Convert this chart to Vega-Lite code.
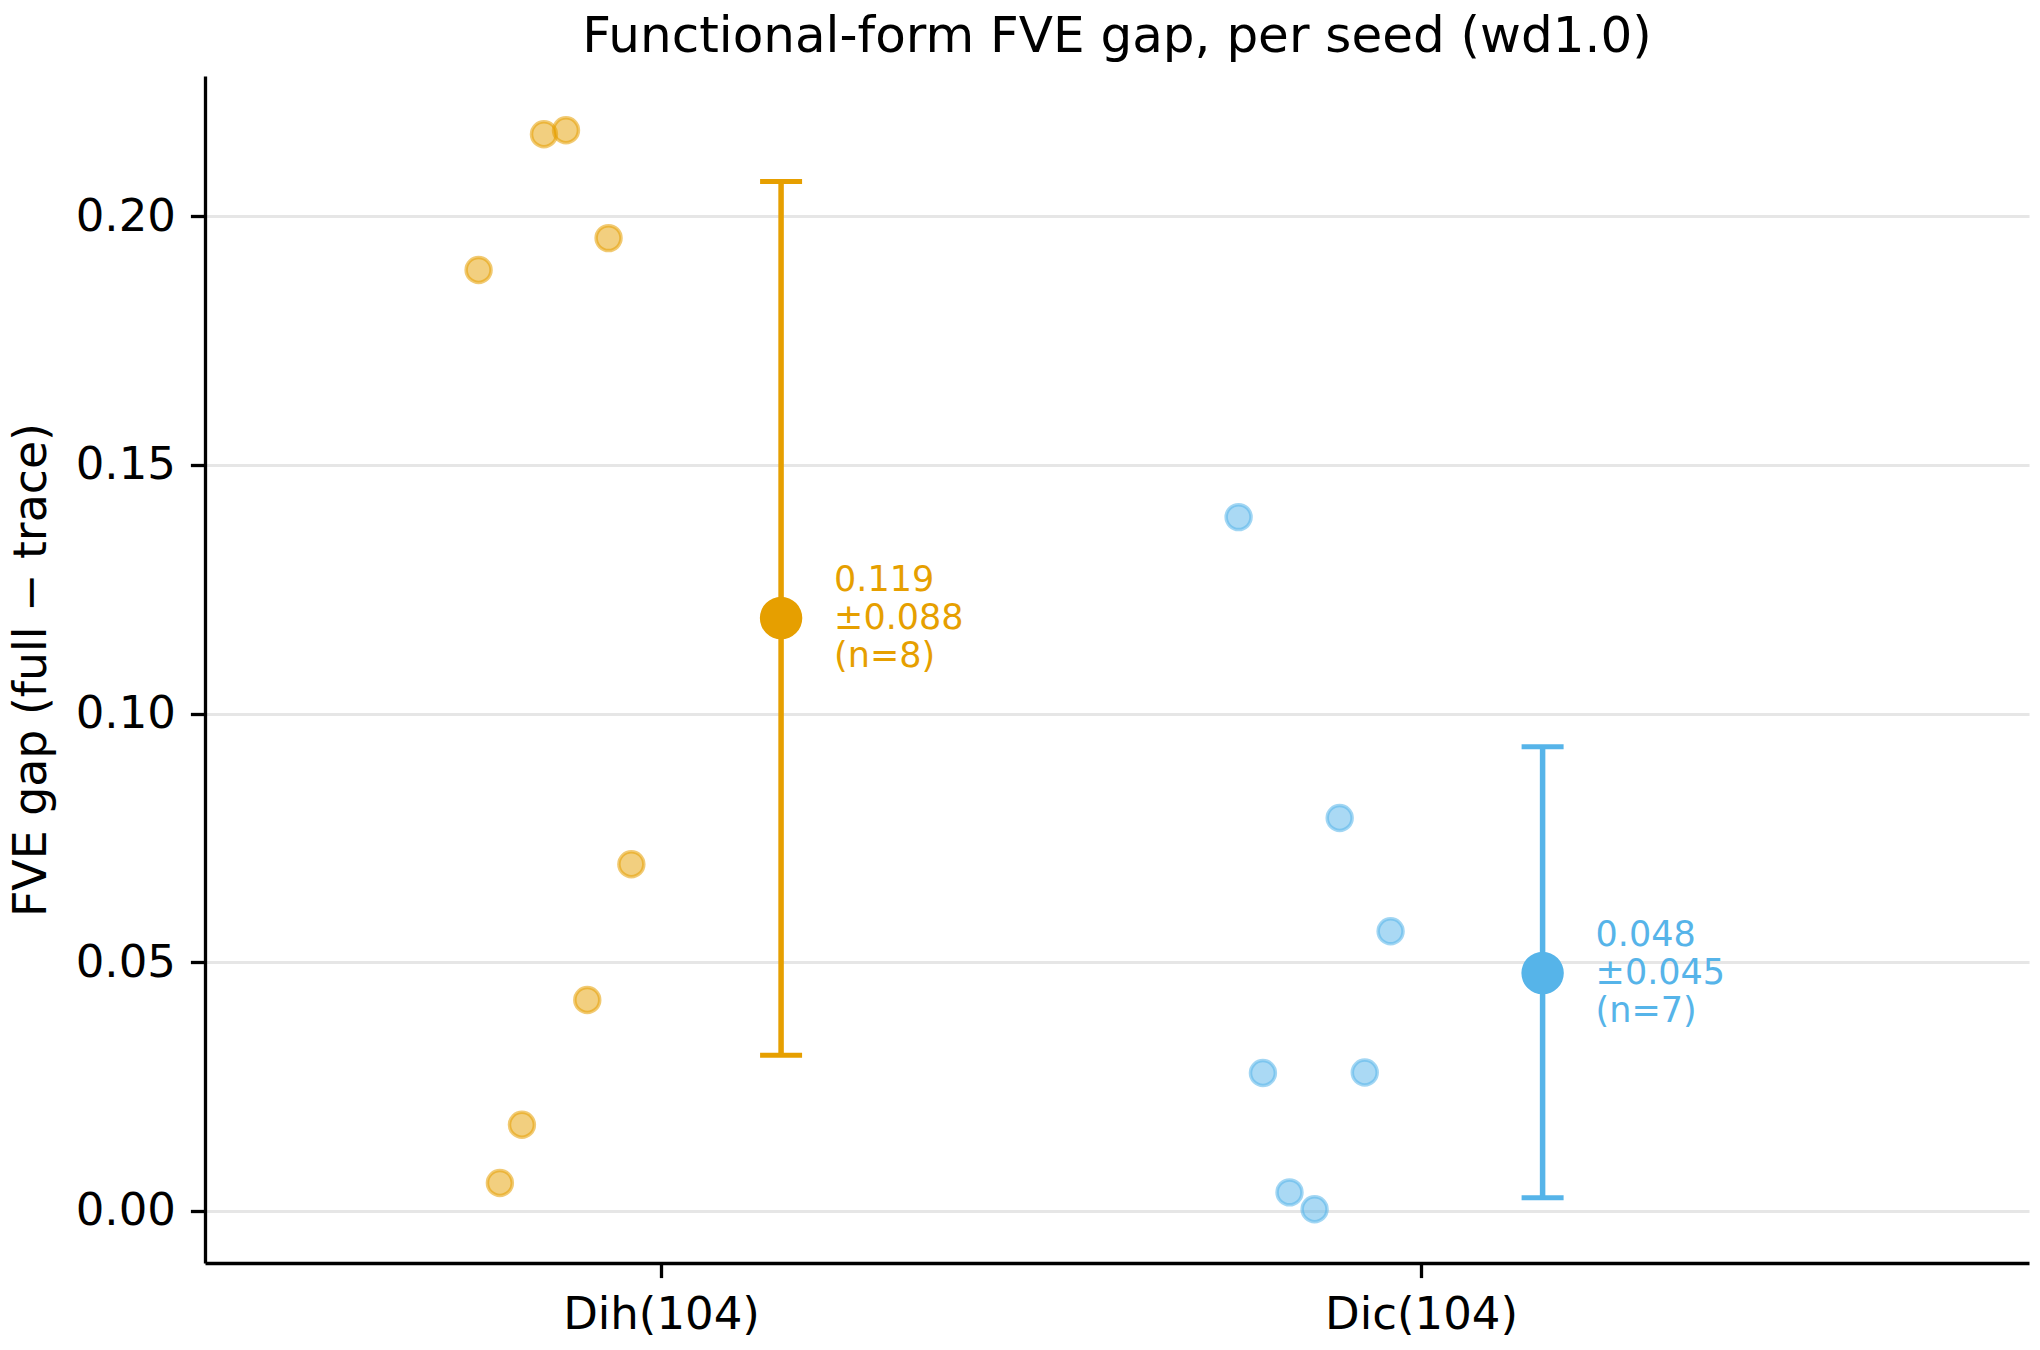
{
  "$schema": "https://vega.github.io/schema/vega-lite/v6.json",
  "width": 1824,
  "height": 1187,
  "autosize": {"type": "none"},
  "padding": {"left": 205, "top": 76, "right": 11, "bottom": 87},
  "background": "white",
  "title": {
    "text": "Functional-form FVE gap, per seed (wd1.0)",
    "font": "DejaVu Sans",
    "fontSize": 50,
    "fontWeight": "normal",
    "color": "black",
    "anchor": "middle",
    "baseline": "alphabetic",
    "offset": -26
  },
  "config": {
    "view": {"stroke": null},
    "font": "DejaVu Sans",
    "axis": {
      "labelFont": "DejaVu Sans",
      "labelFontSize": 45,
      "labelColor": "black",
      "labelLimit": 1000,
      "titleFont": "DejaVu Sans",
      "titleFontSize": 45.8,
      "titleFontWeight": "normal",
      "titleColor": "black",
      "domainColor": "black",
      "domainWidth": 3.3,
      "tickColor": "black",
      "tickWidth": 3.3,
      "tickSize": 14.6,
      "labelPadding": 15,
      "grid": false
    }
  },
  "datasets": {
    "seeds": [
      {"group": "Dih(104)", "x": -0.154, "y": 0.2165},
      {"group": "Dih(104)", "x": -0.125, "y": 0.2173},
      {"group": "Dih(104)", "x": -0.069, "y": 0.1956},
      {"group": "Dih(104)", "x": -0.240, "y": 0.1892},
      {"group": "Dih(104)", "x": -0.039, "y": 0.0697},
      {"group": "Dih(104)", "x": -0.097, "y": 0.0424},
      {"group": "Dih(104)", "x": -0.183, "y": 0.0173},
      {"group": "Dih(104)", "x": -0.212, "y": 0.0056},
      {"group": "Dic(104)", "x": 0.760, "y": 0.1395},
      {"group": "Dic(104)", "x": 0.893, "y": 0.0790},
      {"group": "Dic(104)", "x": 0.960, "y": 0.0562},
      {"group": "Dic(104)", "x": 0.792, "y": 0.0277},
      {"group": "Dic(104)", "x": 0.926, "y": 0.0278},
      {"group": "Dic(104)", "x": 0.827, "y": 0.0037},
      {"group": "Dic(104)", "x": 0.860, "y": 0.0003}
    ],
    "summary": [
      {"group": "Dih(104)", "x": 0.158, "mean": 0.1192, "lo": 0.0313, "hi": 0.2070, "label": ["0.119", "±0.088", "(n=8)"]},
      {"group": "Dic(104)", "x": 1.160, "mean": 0.0478, "lo": 0.0026, "hi": 0.0933, "label": ["0.048", "±0.045", "(n=7)"]}
    ]
  },
  "layer": [
    {
      "data": {"name": "seeds"},
      "mark": {"type": "circle", "size": 620, "fillOpacity": 0.5, "strokeOpacity": 0.55, "strokeWidth": 3.5},
      "encoding": {
        "x": {"field": "x", "type": "quantitative", "scale": {"domain": [-0.6, 1.8], "nice": false, "zero": false}, "title": null,
          "axis": {"values": [0, 1], "labelExpr": "datum.value == 0 ? 'Dih(104)' : 'Dic(104)'", "grid": false}},
        "y": {"field": "y", "type": "quantitative", "scale": {"domain": [-0.0105, 0.2282], "nice": false, "zero": false}, "title": "FVE gap (full − trace)",
          "axis": {"values": [0, 0.05, 0.1, 0.15, 0.2], "format": ".2f", "grid": true, "gridColor": "#e6e6e6", "gridWidth": 3, "titlePadding": 20}},
        "color": {"field": "group", "type": "nominal", "scale": {"domain": ["Dih(104)", "Dic(104)"], "range": ["#E69F00", "#56B4E9"]}, "legend": null},
        "stroke": {"field": "group", "type": "nominal", "scale": {"domain": ["Dih(104)", "Dic(104)"], "range": ["#E69F00", "#56B4E9"]}, "legend": null}
      }
    },
    {
      "data": {"name": "summary"},
      "mark": {"type": "rule", "strokeWidth": 5.5},
      "encoding": {
        "x": {"field": "x", "type": "quantitative"},
        "y": {"field": "lo", "type": "quantitative"},
        "y2": {"field": "hi"},
        "color": {"field": "group", "type": "nominal", "legend": null}
      }
    },
    {
      "data": {"name": "summary"},
      "mark": {"type": "tick", "orient": "horizontal", "size": 42, "thickness": 5, "opacity": 1},
      "encoding": {
        "x": {"field": "x", "type": "quantitative"},
        "y": {"field": "lo", "type": "quantitative"},
        "color": {"field": "group", "type": "nominal", "legend": null}
      }
    },
    {
      "data": {"name": "summary"},
      "mark": {"type": "tick", "orient": "horizontal", "size": 42, "thickness": 5, "opacity": 1},
      "encoding": {
        "x": {"field": "x", "type": "quantitative"},
        "y": {"field": "hi", "type": "quantitative"},
        "color": {"field": "group", "type": "nominal", "legend": null}
      }
    },
    {
      "data": {"name": "summary"},
      "mark": {"type": "circle", "size": 1800, "opacity": 1},
      "encoding": {
        "x": {"field": "x", "type": "quantitative"},
        "y": {"field": "mean", "type": "quantitative"},
        "color": {"field": "group", "type": "nominal", "legend": null}
      }
    },
    {
      "data": {"name": "summary"},
      "mark": {"type": "text", "align": "left", "baseline": "middle", "dx": 53, "dy": -38, "fontSize": 35, "lineHeight": 38, "font": "DejaVu Sans"},
      "encoding": {
        "x": {"field": "x", "type": "quantitative"},
        "y": {"field": "mean", "type": "quantitative"},
        "text": {"field": "label"},
        "color": {"field": "group", "type": "nominal", "legend": null}
      }
    }
  ]
}
